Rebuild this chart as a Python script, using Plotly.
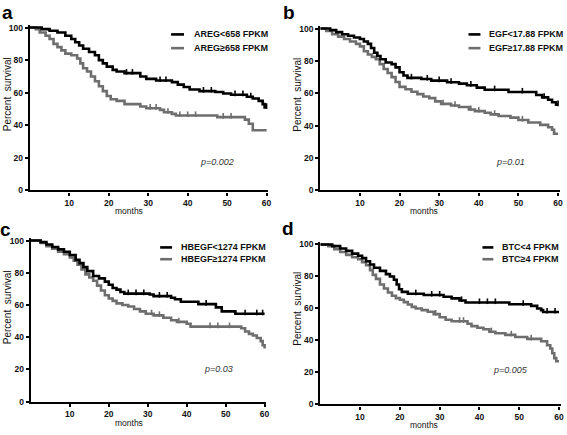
import plotly.graph_objects as go

# ---------------- data ----------------
panel_letters = ["a", "b", "c", "d"]
low_labels = ["AREG<658 FPKM", "EGF<17.88 FPKM", "HBEGF<1274 FPKM", "BTC<4 FPKM"]
high_labels = ["AREG≥658 FPKM", "EGF≥17.88 FPKM", "HBEGF≥1274 FPKM", "BTC≥4 FPKM"]
p_values = ["p=0.002", "p=0.01", "p=0.03", "p=0.005"]
x_ticks = [10, 20, 30, 40, 50, 60]
y_ticks = [0, 20, 40, 60, 80, 100]

a_low_t = [0, 3, 5, 7, 9, 10.5, 11.5, 12.5, 13.5, 15, 16.5, 17.5, 18.5, 19.5, 21, 22, 24, 28, 29.5, 32, 36, 37.5, 39, 40.5, 43, 47, 49, 51, 55, 56.5, 58, 59, 59.5, 60]
a_low_s = [100, 99, 98, 97, 95, 93, 91, 89, 87, 85, 83, 80, 78, 76, 74, 73, 72, 70, 68.5, 67.5, 66.5, 65, 63.5, 62, 61, 60.4, 59.5, 58.8, 57.5, 56.5, 55, 53, 51, 51]
a_high_t = [0, 1.5, 2.5, 4, 5, 6, 7, 8, 9, 10.5, 12, 12.8, 13.5, 14.5, 15.5, 16.5, 17.5, 18.5, 19.5, 20.5, 22, 24, 28, 29.5, 33, 34, 36, 37, 47.5, 54.5, 55.5, 56.5, 60]
a_high_s = [100, 99, 97, 95, 93, 90, 88, 86, 84, 83, 81, 78, 75, 73, 70, 67, 64, 61, 58, 56, 55, 53, 51.5, 50.5, 49.5, 48, 47, 46, 45, 43.5, 41, 37, 37]

b_low_t = [0, 2.5, 4, 5.5, 7, 8.5, 10, 11, 12, 12.8, 13.6, 14.4, 15.2, 16.5, 18, 19, 20, 21, 22, 25.5, 28, 32, 35, 37, 39.5, 41.5, 47.5, 54.5, 56, 57.5, 58.5, 59.5, 60]
b_low_s = [100, 99, 97.8, 96.5, 95.5, 94.5, 93.5, 92, 90.5, 88, 85, 83, 81, 79, 78, 76, 73, 71, 69.5, 68.8, 67.8, 66.8, 66, 65, 63.5, 62.2, 60.8, 59, 57.5, 56, 54.5, 53, 53]
b_high_t = [0, 1.5, 3, 4.5, 6, 7.5, 9, 10, 11, 12, 13, 14, 15, 16, 17, 18, 19, 20, 21.5, 23, 24.5, 26, 27.5, 29, 30.5, 33, 35, 37.5, 39, 41.5, 43, 45, 48, 50, 52.5, 55.5, 57.5, 58.5, 59, 60]
b_high_s = [100, 98.5, 96.5, 95, 93.5, 92, 90.5, 89, 86, 84, 82.5, 81, 78, 75, 72.5, 70, 67, 64, 62.5, 61, 59.5, 58, 57, 55, 53.5, 52.5, 51.5, 50, 49, 48, 47, 46, 45, 43.5, 42, 40.5, 39, 37.5, 35, 35]

c_low_t = [0, 2.5, 4, 5.5, 7, 8.5, 10, 11.5, 12.5, 13.5, 14.5, 16, 17.5, 19, 20, 21, 22, 23, 24, 30.5, 31.5, 36, 37, 38.5, 43, 47.5, 49, 52.5, 60]
c_low_s = [100, 99, 97.5, 96, 94.5, 93, 91, 88, 86, 83.5, 81, 78, 76.5, 74.5, 72.5, 70.5, 69.5, 68, 67, 66.5, 65.5, 64.5, 63.5, 62, 60.5, 58.5, 56, 54.5, 54.5]
c_high_t = [0, 2.5, 4, 5.5, 7, 8.5, 10, 11, 12, 13, 14, 15, 16, 17, 18, 19, 20, 21, 22, 23.5, 25, 26.5, 28, 29.5, 31.5, 34, 36, 37.5, 40, 41, 54, 55, 56, 57, 58, 59, 59.5, 60]
c_high_s = [100, 98.5, 96.5, 95, 93, 91.5, 89.5, 87.5, 85, 82, 79, 77, 75, 72, 69, 66, 64, 62.5, 61, 60, 59, 57.5, 56, 54.5, 53.5, 52, 50.5, 49.5, 48.3, 46.5, 45.5, 43.5, 42, 41, 39.5, 37.5, 35, 33]

d_low_t = [0, 3, 5, 6.5, 8, 9.5, 10.5, 11.5, 12.5, 13.5, 15, 16.5, 17.5, 18.5, 19.2, 19.8, 20.5, 22, 26, 31, 33, 35, 36.5, 47.5, 53, 54.5, 55.5, 56, 60]
d_low_s = [100, 99, 97.5, 96, 94.3, 93, 91.5, 89.5, 87.5, 85.5, 83.5, 81.5, 80, 78, 75, 72, 70.4, 69.2, 68.4, 67.3, 66.3, 65, 63.7, 62.6, 61.6, 60, 59, 57.8, 57.8]
d_high_t = [0, 2, 3.5, 5, 6.5, 8, 9.5, 10.5, 11.5, 12.5, 13.2, 14, 15, 16, 17, 18, 19, 20, 21, 22, 23, 24, 25.5, 27, 28.5, 30, 31.5, 33, 37, 38, 39.5, 41, 42.5, 44, 46.5, 49, 52, 55.5, 57, 57.8, 58.3, 58.8, 59.3, 60]
d_high_s = [100, 99, 97, 95.3, 93.5, 92, 90.8, 89, 87, 84, 81, 78.5, 75, 72.5, 70, 68, 66.5, 65.5, 64, 62.5, 61, 60, 59, 58, 56.5, 54.5, 53, 52, 50.5, 49, 48, 47, 45.5, 44.5, 43.5, 42.2, 41, 39.5, 37, 35, 32, 29, 27, 27]

# censor times (small tick marks)
a_low_c = [24.5, 26, 33, 34.5, 44, 46, 52, 54, 56, 60]
a_high_c = [30.5, 32, 35, 38, 40, 42, 49, 51]
b_low_c = [23, 27, 30, 33, 38, 44, 51, 56.5, 60]
b_high_c = [31, 34, 38, 40, 44, 51]
c_low_c = [25, 27, 29, 33, 35, 45, 55, 58, 59.5]
c_high_c = [31, 33, 38, 46, 48, 51]
d_low_c = [24, 28, 30, 35.5, 40, 42, 44, 51, 57, 59]
d_high_c = [29, 35, 36, 43, 48, 53]

# ---------------- styling / layout ----------------
W, H = 567, 435
BLACK = "#000000"
GRAY = "#6e6e6e"
FONT = "Liberation Sans"

# pixel geometry of each panel: (x0px, x60px, y0px, y100px)
geo = [(30, 268, 191, 25), (322, 561, 191, 26), (31, 266, 406, 242), (322, 562, 409, 246)]
legend_px = [(172, 185, 193, 32, 46), (471, 483, 490, 32, 46), (161, 173, 180, 249, 261), (485, 496, 503, 249, 261)]
pval_px = [(218, 162), (513, 162), (220, 373), (513, 374)]
letter_px = [(8, 10), (291, 10), (6, 231), (290, 230)]
ytitle_px = [(7, 93), (299, 93), (7, 310), (299, 311)]
months_px = [(130, 212), (426, 212), (130, 428), (426, 430)]

XMAX, YMAX = 60.4, 101.5

series = [
    (a_low_t, a_low_s, a_low_c, a_high_t, a_high_s, a_high_c),
    (b_low_t, b_low_s, b_low_c, b_high_t, b_high_s, b_high_c),
    (c_low_t, c_low_s, c_low_c, c_high_t, c_high_s, c_high_c),
    (d_low_t, d_low_s, d_low_c, d_high_t, d_high_s, d_high_c),
]


def step_at(ts, ss, t):
    v = ss[0]
    for ti, si in zip(ts, ss):
        if ti <= t:
            v = si
        else:
            break
    return v


def px_x(p):
    return p / W


def px_y(p):
    return 1 - p / H


fig = go.Figure()
annotations = []
shapes = []

for i in range(4):
    lt, ls, lc, ht, hs, hc = series[i]
    xa = "x" if i == 0 else f"x{i+1}"
    ya = "y" if i == 0 else f"y{i+1}"
    for t, s, c, col in ((ht, hs, hc, GRAY), (lt, ls, lc, BLACK)):
        fig.add_trace(go.Scatter(x=t, y=s, mode="lines", line=dict(color=col, width=2.6, shape="hv"),
                                 xaxis=xa, yaxis=ya, showlegend=False, hoverinfo="skip", cliponaxis=False))
        fig.add_trace(go.Scatter(x=c, y=[step_at(t, s, ci) + 0.8 for ci in c], mode="markers",
                                 marker=dict(symbol="line-ns", size=4, line=dict(color=col, width=1.6)),
                                 xaxis=xa, yaxis=ya, showlegend=False, hoverinfo="skip", cliponaxis=False))

    x0p, x60p, y0p, y100p = geo[i]
    xend = x0p + (x60p - x0p) * XMAX / 60
    ytop = y0p - (y0p - y100p) * YMAX / 100
    common = dict(showline=True, linewidth=2.4, linecolor=BLACK, ticks="outside", ticklen=3,
                  tickwidth=1.6, tickcolor=BLACK, showgrid=False, zeroline=False,
                  tickfont=dict(family=FONT, size=8.5, color="#111", weight="bold"))
    fig.layout[("xaxis" if i == 0 else f"xaxis{i+1}")] = dict(
        domain=[px_x(x0p), px_x(xend)], range=[0, XMAX], anchor=ya, tickvals=x_ticks, **common)
    fig.layout[("yaxis" if i == 0 else f"yaxis{i+1}")] = dict(
        domain=[px_y(y0p), px_y(ytop)], range=[0, YMAX], anchor=xa, tickvals=y_ticks, **common)

    # legend
    lx0, lx1, tx, ly1, ly2 = legend_px[i]
    for ly, col, lab in ((ly1, BLACK, low_labels[i]), (ly2, GRAY, high_labels[i])):
        shapes.append(dict(type="line", xref="paper", yref="paper", x0=px_x(lx0), x1=px_x(lx1),
                           y0=px_y(ly), y1=px_y(ly), line=dict(color=col, width=2.6)))
        annotations.append(dict(text=lab, x=px_x(tx), y=px_y(ly), xref="paper", yref="paper",
                                xanchor="left", yanchor="middle", showarrow=False,
                                font=dict(family=FONT, size=9, color="#111", weight="bold")))
    px_, py_ = pval_px[i]
    annotations.append(dict(text=f"<i>{p_values[i]}</i>", x=px_x(px_), y=px_y(py_), xref="paper", yref="paper",
                            xanchor="center", yanchor="middle", showarrow=False,
                            font=dict(family=FONT, size=9, color="#333")))
    lx, lyy = letter_px[i]
    annotations.append(dict(text=panel_letters[i], x=px_x(lx), y=px_y(lyy), xref="paper", yref="paper",
                            xanchor="center", yanchor="middle", showarrow=False,
                            font=dict(family=FONT, size=19, color=BLACK, weight="bold")))
    tx_, ty_ = ytitle_px[i]
    annotations.append(dict(text="Percent  survival", x=px_x(tx_), y=px_y(ty_), xref="paper", yref="paper",
                            xanchor="center", yanchor="middle", showarrow=False, textangle=-90,
                            font=dict(family=FONT, size=10, color="#111")))
    mx, my = months_px[i]
    annotations.append(dict(text="months", x=px_x(mx), y=px_y(my), xref="paper", yref="paper",
                            xanchor="center", yanchor="middle", showarrow=False,
                            font=dict(family=FONT, size=8.5, color="#111")))

fig.update_layout(width=W, height=H, margin=dict(l=0, r=0, t=0, b=0),
                  paper_bgcolor="white", plot_bgcolor="white",
                  annotations=annotations, shapes=shapes, showlegend=False)

fig.write_html("out.html", config={"displayModeBar": False},
               post_script="document.body.style.margin='0';document.body.style.overflow='hidden';")
